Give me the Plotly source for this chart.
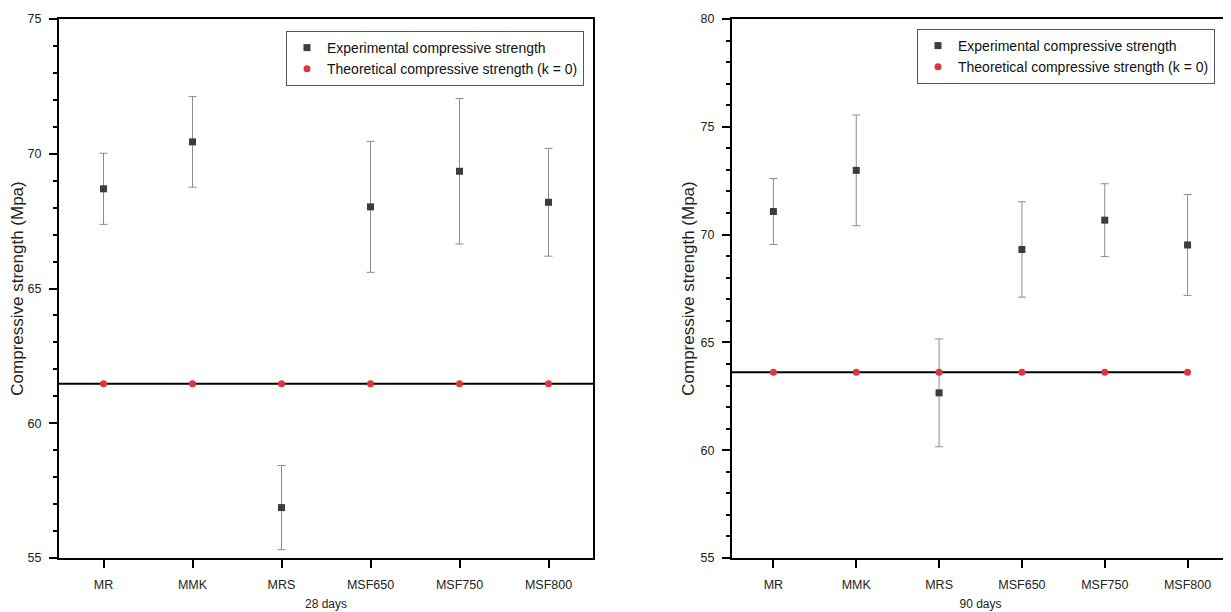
import plotly.graph_objects as go

categories = ["MR", "MMK", "MRS", "MSF650", "MSF750", "MSF800"]

exp_28 = [68.70, 70.44, 56.87, 68.03, 69.35, 68.20]
err_28 = [1.32, 1.68, 1.56, 2.43, 2.70, 2.00]
theo_28 = [61.47, 61.47, 61.47, 61.47, 61.47, 61.47]

exp_90 = [71.07, 72.98, 62.66, 69.31, 70.67, 69.52]
err_90 = [1.53, 2.57, 2.50, 2.21, 1.69, 2.34]
theo_90 = [63.62, 63.62, 63.62, 63.62, 63.62, 63.62]

x_titles = ["28 days", "90 days"]
y_title = "Compressive strength (Mpa)"
name_exp = "Experimental compressive strength"
name_theo = "Theoretical compressive strength (k = 0)"

FONT = "Liberation Sans, Arial, sans-serif"
EXP_COLOR = "#3c3c3c"
ERR_COLOR = "#8c8c8c"
THEO_COLOR = "#e0353d"

fig = go.Figure()

panels = [
    ("x", "y", "legend", exp_28, err_28, theo_28),
    ("x2", "y2", "legend2", exp_90, err_90, theo_90),
]
for xa, ya, lg, ev, ee, tv in panels:
    fig.add_trace(go.Scatter(
        x=categories, y=ev, mode="markers", name=name_exp,
        xaxis=xa, yaxis=ya, legend=lg,
        marker=dict(symbol="square", size=7, color=EXP_COLOR),
        error_y=dict(type="data", array=ee, visible=True,
                     color=ERR_COLOR, thickness=1, width=4),
    ))
    fig.add_trace(go.Scatter(
        x=categories, y=tv, mode="markers", name=name_theo,
        xaxis=xa, yaxis=ya, legend=lg,
        marker=dict(symbol="circle", size=7, color=THEO_COLOR),
    ))

# theoretical reference lines
fig.add_shape(type="line", xref="x domain", yref="y", x0=0, x1=1,
              y0=theo_28[0], y1=theo_28[-1],
              line=dict(color="black", width=2), layer="below")
fig.add_shape(type="line", xref="x2", yref="y2", x0=-0.5, x1=len(categories) - 1,
              y0=theo_90[0], y1=theo_90[-1],
              line=dict(color="black", width=2), layer="below")

# page has an 8px body margin: work in page pixels, convert to figure
OFF = 8
W, H = 1231 - OFF, 612 - OFF
def px_x(a, b):
    return [(a - OFF) / W, (b - OFF) / W]
def px_y(top, bottom):
    return [1 - (bottom - OFF) / H, 1 - (top - OFF) / H]

common_x = dict(
    type="category", range=[-0.5, 5.5], showline=True, mirror=True,
    linecolor="black", linewidth=2, ticks="outside", ticklen=8, tickwidth=2,
    tickcolor="black", showgrid=False, zeroline=False,
    tickfont=dict(family=FONT, size=12.5, color="#222"),
    ticklabelstandoff=6, automargin=False,
)
common_y = dict(
    showline=True, mirror=True, linecolor="black", linewidth=2,
    ticks="outside", ticklen=8, tickwidth=2, tickcolor="black",
    showgrid=False, zeroline=False, dtick=5,
    tickfont=dict(family=FONT, size=12.5, color="#222"),
    ticklabelstandoff=5, automargin=False,
    minor=dict(dtick=1, ticks="outside", ticklen=4, tickwidth=2, tickcolor="black"),
)

fig.update_layout(
    width=W, height=H,
    margin=dict(l=0, r=0, t=0, b=0),
    paper_bgcolor="white", plot_bgcolor="white",
    font=dict(family=FONT, color="#222"),
    xaxis=dict(common_x, domain=px_x(59, 593), anchor="y",
               title=dict(text=x_titles[0], font=dict(size=12, family=FONT), standoff=9)),
    yaxis=dict(common_y, domain=px_y(19, 558), range=[55, 75], anchor="x",
               title=dict(text=y_title, font=dict(size=17, family=FONT), standoff=2)),
    xaxis2=dict(common_x, domain=px_x(732, 1229), anchor="y2",
                title=dict(text=x_titles[1], font=dict(size=12, family=FONT), standoff=9)),
    yaxis2=dict(common_y, domain=px_y(19, 558), range=[55, 80], anchor="x2",
                title=dict(text=y_title, font=dict(size=17, family=FONT), standoff=2)),
    legend=dict(x=(584 - OFF) / W, y=1 - (31 - OFF) / H, xanchor="right", yanchor="top",
                bgcolor="white", bordercolor="#555", borderwidth=1,
                font=dict(family=FONT, size=14, color="#111")),
    legend2=dict(x=(1215 - OFF) / W, y=1 - (29 - OFF) / H, xanchor="right", yanchor="top",
                 bgcolor="white", bordercolor="#555", borderwidth=1,
                 font=dict(family=FONT, size=14, color="#111")),
    showlegend=True,
)

fig.write_html("out.html")
